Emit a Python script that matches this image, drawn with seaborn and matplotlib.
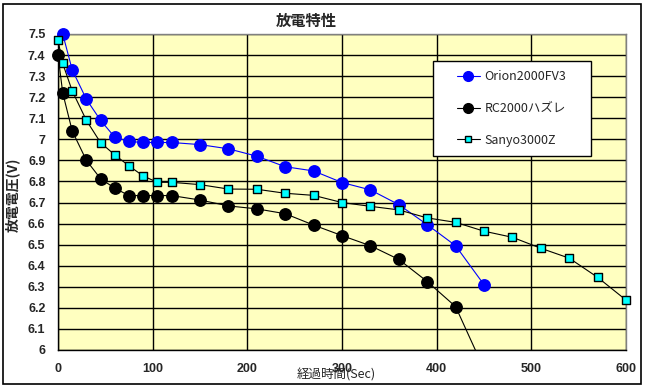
import matplotlib
matplotlib.use("Agg")
import matplotlib.pyplot as plt
from matplotlib.lines import Line2D
from matplotlib.patches import Rectangle
import pandas as pd
import seaborn as sns

# データ
orion_t = [5, 15, 30, 45, 60, 75, 90, 105, 120, 150, 180, 210, 240, 270, 300, 330, 360, 390, 420, 450]
orion_v = [7.50, 7.33, 7.19, 7.09, 7.01, 6.99, 6.985, 6.985, 6.985, 6.975, 6.955, 6.92, 6.87, 6.85,
           6.795, 6.76, 6.69, 6.595, 6.495, 6.31]

rc_t = [0, 5, 15, 30, 45, 60, 75, 90, 105, 120, 150, 180, 210, 240, 270, 300, 330, 360, 390, 420, 450]
rc_v = [7.40, 7.22, 7.04, 6.90, 6.813, 6.768, 6.733, 6.733, 6.733, 6.733, 6.712, 6.684, 6.67, 6.647,
        6.593, 6.543, 6.495, 6.43, 6.325, 6.206, 5.91]

sanyo_t = [0, 5, 15, 30, 45, 60, 75, 90, 105, 120, 150, 180, 210, 240, 270, 300, 330, 360, 390,
           420, 450, 480, 510, 540, 570, 600, 630]
sanyo_v = [7.47, 7.36, 7.23, 7.09, 6.984, 6.926, 6.874, 6.826, 6.796, 6.796, 6.785, 6.764, 6.763,
           6.744, 6.734, 6.70, 6.682, 6.665, 6.627, 6.606, 6.564, 6.535, 6.483, 6.436, 6.345,
           6.237, 6.13]

labels = ['Orion2000FV3', 'RC2000ハズレ', 'Sanyo3000Z']
y_ticks = [6.0, 6.1, 6.2, 6.3, 6.4, 6.5, 6.6, 6.7, 6.8, 6.9, 7.0, 7.1, 7.2, 7.3, 7.4, 7.5]
x_ticks = [0, 100, 200, 300, 400, 500, 600]

sns.set_style("white")
plt.rcParams['font.family'] = ['Noto Sans CJK JP', 'DejaVu Sans']

fig = plt.figure(figsize=(6.46, 3.9), dpi=100)
fig.patch.set_facecolor('white')
fig.patches.append(Rectangle((3 / 646, 6 / 390), 638 / 646, 380 / 390, transform=fig.transFigure,
                             fill=False, edgecolor='black', linewidth=1.2))

ax = fig.add_axes([58 / 646, 1 - 350 / 390, 568 / 646, 316 / 390])
ax.set_facecolor('#FFFFC0')

series = [
    (orion_t, orion_v, 'blue', 'blue', 'blue', 'o', 68),
    (rc_t, rc_v, 'black', 'black', 'black', 'o', 68),
    (sanyo_t, sanyo_v, 'black', '#00FFFF', 'black', 's', 30),
]
for t, v, lc, fc, ec, mk, ms in series:
    df = pd.DataFrame({'t': t, 'v': v})
    sns.lineplot(data=df, x='t', y='v', color=lc, linewidth=0.8, ax=ax, zorder=3)
    inside = df[(df['t'] <= 600) & (df['v'] >= 6.0)]
    sns.scatterplot(data=inside, x='t', y='v', marker=mk, s=ms, color=fc, edgecolor=ec,
                    linewidth=1.0, ax=ax, zorder=4, clip_on=False)

ax.set_xlim(0, 600)
ax.set_ylim(6.0, 7.5)
ax.set_xticks(x_ticks)
ax.set_yticks(y_ticks)
ax.set_xticklabels([str(x) for x in x_ticks], fontsize=9, fontweight='bold', family='Liberation Sans')
ax.set_yticklabels([f'{y:g}' for y in y_ticks], fontsize=9, fontweight='bold', family='Liberation Sans')
ax.tick_params(axis='x', length=0, pad=9)
ax.tick_params(axis='y', length=0, pad=9)
ax.grid(True, color='black', linewidth=1.0)
ax.set_axisbelow(True)
ax.set_xlabel('')
ax.set_ylabel('')
for side in ['top', 'right']:
    ax.spines[side].set_color('#808080')
    ax.spines[side].set_linewidth(1.0)
for side in ['left', 'bottom']:
    ax.spines[side].set_color('black')
    ax.spines[side].set_linewidth(1.0)

# 凡例の枠
ax.add_patch(Rectangle((0.660, 0.614), 0.278, 0.301, transform=ax.transAxes, facecolor='white',
                       edgecolor='black', linewidth=1.0, zorder=9, clip_on=False))
handles = [
    Line2D([], [], color='blue', marker='o', markersize=7, linewidth=0.8),
    Line2D([], [], color='black', marker='o', markersize=7, linewidth=0.8),
    Line2D([], [], color='black', marker='s', markersize=5, markerfacecolor='#00FFFF',
           markeredgecolor='black', linewidth=0.8),
]
leg = ax.legend(handles, labels, loc='center', bbox_to_anchor=(0.799, 0.7645),
                fontsize=9, frameon=False, labelspacing=1.5, handlelength=1.8,
                handletextpad=0.4, borderpad=0, borderaxespad=0)
leg.set_zorder(10)

fig.text(306 / 646, 1 - 21 / 390, '放電特性', ha='center', va='center', fontsize=11, fontweight='bold')
fig.text(336 / 646, 1 - 375 / 390, '経過時間(Sec)', ha='center', va='center', fontsize=9)
fig.text(13 / 646, 1 - 195 / 390, '放電電圧(V)', ha='center', va='center', fontsize=10,
         fontweight='bold', rotation=90)

fig.savefig('out.png', dpi=100)
